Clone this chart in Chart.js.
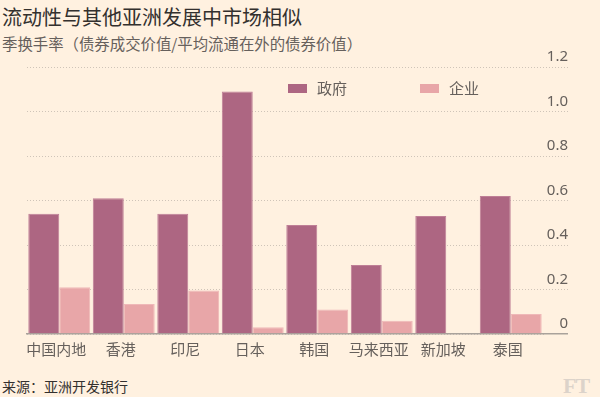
<!DOCTYPE html>
<html>
<head>
<meta charset="utf-8">
<script src="https://cdn.jsdelivr.net/npm/chart.js@4"></script>
<style>
  html,body{margin:0;padding:0;background:#fff1e0;}
  #wrap{position:relative;width:600px;height:397px;background:#fff1e0;overflow:hidden;font-family:"Noto Sans CJK SC","Noto Sans",sans-serif;}
  #title{position:absolute;left:2px;top:4px;font-size:20px;color:#33302e;line-height:26px;white-space:nowrap;}
  #subtitle{position:absolute;left:2px;top:33px;font-size:15.4px;color:#66605c;line-height:20px;white-space:nowrap;}
  #source{position:absolute;left:2px;top:377px;font-size:14px;color:#33302e;line-height:19px;white-space:nowrap;}
  #ft{position:absolute;left:563px;top:374px;font-family:"Liberation Serif",serif;font-size:22px;font-weight:bold;color:#dcd3ca;line-height:24px;letter-spacing:-1px;}
  canvas{position:absolute;left:0;top:0;}
</style>
</head>
<body>
<div id="wrap">
  <div id="title">流动性与其他亚洲发展中市场相似</div>
  <div id="subtitle">季换手率（债券成交价值/平均流通在外的债券价值）</div>
  <div id="source">来源：亚洲开发银行</div>
  <div id="ft">FT</div>
  <canvas id="c" width="600" height="397"></canvas>
</div>
<script>
const categories = ["中国内地","香港","印尼","日本","韩国","马来西亚","新加坡","泰国"];
const governmentValues = [0.54, 0.61, 0.54, 1.09, 0.49, 0.31, 0.53, 0.62];
const corporateValues = [0.21, 0.135, 0.195, 0.03, 0.11, 0.06, null, 0.09];
const seriesLabels = ["政府","企业"];
const yTicks = [0, 0.2, 0.4, 0.6, 0.8, 1.0, 1.2];

const govColor = "#ad6682";
const corpColor = "#e8a6a8";

const legendPlugin = {
  id: "inlineLegend",
  afterDraw(chart) {
    const ctx = chart.ctx;
    const starts = [288, 420];
    ctx.save();
    chart.data.datasets.forEach((ds, i) => {
      const x = starts[i];
      const y = 84;
      ctx.fillStyle = ds.backgroundColor;
      ctx.fillRect(x, y, 19, 9);
      ctx.fillStyle = "#66605c";
      ctx.font = '15px "Noto Sans CJK SC"';
      ctx.textBaseline = "middle";
      ctx.textAlign = "left";
      ctx.fillText(ds.label, x + 29, y + 4.5);
    });
    ctx.restore();
  }
};

new Chart(document.getElementById("c"), {
  type: "bar",
  data: {
    labels: categories,
    datasets: [
      { label: seriesLabels[0], data: governmentValues, backgroundColor: govColor, borderColor: "#bf7f96", borderWidth: 1, borderSkipped: "bottom" },
      { label: seriesLabels[1], data: corporateValues, backgroundColor: corpColor, borderColor: "#efb8b8", borderWidth: 1, borderSkipped: "bottom" }
    ]
  },
  options: {
    responsive: false,
    animation: false,
    devicePixelRatio: 1,
    layout: { padding: { top: 67, left: 27, right: 32, bottom: 33 } },
    datasets: { bar: { categoryPercentage: 0.96, barPercentage: 1.0 } },
    plugins: { legend: { display: false }, tooltip: { enabled: false }, title: { display: false } },
    scales: {
      x: {
        grid: { display: false, drawTicks: false },
        border: { display: true, color: "#a9a29b", width: 1.5 },
        ticks: { color: "#66605c", font: { family: "Noto Sans CJK SC", size: 15 }, padding: 6, labelOffset: -3, maxRotation: 0, autoSkip: false }
      },
      y: {
        position: "right",
        min: 0,
        max: 1.2,
        afterFit(scale) { scale.width = 25; },
        afterBuildTicks(scale) { scale.ticks = yTicks.map(v => ({ value: v })); },
        grid: {
          color: (c) => c.tick && c.tick.value === 0 ? "#a9a29b" : "#cfc4b8",
          tickColor: (c) => c.tick && c.tick.value === 0 ? "#a9a29b" : "#cfc4b8",
          lineWidth: (c) => c.tick && c.tick.value === 0 ? 1.5 : 1,
          tickWidth: (c) => c.tick && c.tick.value === 0 ? 1.5 : 1,
          drawTicks: true,
          tickLength: 25,
          tickBorderDash: (c) => c.tick && c.tick.value === 0 ? [] : [1, 2]
        },
        border: { display: false, dash: [1, 2] },
        ticks: {
          color: "#66605c",
          font: { family: "Noto Sans", size: 15 },
          crossAlign: "far",
          padding: 0,
          labelOffset: -10,
          callback: (v) => v === 0 ? "0" : v.toFixed(1)
        }
      }
    }
  },
  plugins: [legendPlugin]
});
</script>
</body>
</html>
